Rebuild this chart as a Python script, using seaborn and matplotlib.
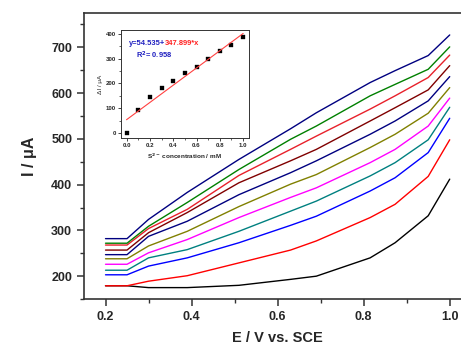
import numpy as np
import pandas as pd
import matplotlib
matplotlib.use("Agg")
import matplotlib.pyplot as plt
from matplotlib.ticker import MultipleLocator
import seaborn as sns

# potentials (V vs SCE) where the curves were read
potential = [0.20, 0.25, 0.30, 0.39, 0.51, 0.63, 0.69, 0.815, 0.873, 0.95, 1.0]

# currents (uA), bottom curve first
c0 = [179, 179, 175, 175, 180, 193, 200, 240, 273, 332, 412]
c1 = [179, 179, 189, 201, 229, 257, 277, 328, 357, 418, 498]
c2 = [203, 203, 222, 240, 273, 311, 331, 386, 415, 470, 545]
c3 = [213, 213, 240, 258, 298, 342, 364, 419, 448, 498, 569]
c4 = [226, 226, 251, 280, 328, 372, 393, 448, 477, 528, 589]
c5 = [238, 238, 266, 298, 352, 401, 422, 481, 510, 556, 612]
c6 = [247, 247, 287, 320, 378, 426, 452, 510, 539, 583, 636]
c7 = [257, 257, 295, 339, 404, 452, 477, 539, 568, 607, 660]
c8 = [268, 268, 304, 346, 420, 477, 506, 565, 594, 634, 683]
c9 = [272, 272, 309, 361, 433, 499, 528, 594, 619, 652, 701]
c10 = [282, 282, 324, 383, 455, 522, 557, 623, 649, 682, 727]
curves = [c0, c1, c2, c3, c4, c5, c6, c7, c8, c9, c10]

colors = ["#000000", "#ff0000", "#0000ff", "#008080", "#ff00ff", "#808000",
          "#000080", "#800000", "#e8202a", "#008000", "#000080"]

# inset: calibration
conc = [0.0, 0.1, 0.2, 0.3, 0.4, 0.5, 0.6, 0.7, 0.8, 0.9, 1.0]
delta_i = [0, 91, 145, 180, 209, 242, 268, 299, 329, 353, 385]

rows = []
for k, c in enumerate(curves):
    for e, i in zip(potential, c):
        rows.append({"E": e, "I": i, "curve": k})
df = pd.DataFrame(rows)

sns.set_theme(style="ticks")
plt.rcParams["font.family"] = ["Liberation Sans", "DejaVu Sans"]
plt.rcParams["font.weight"] = "bold"

fig = plt.figure(figsize=(4.61, 3.51), dpi=100)
ax = fig.add_axes([0.1822, 0.148, 0.84, 0.815])

sns.lineplot(data=df, x="E", y="I", hue="curve", palette=colors,
             estimator=None, sort=False, legend=False, linewidth=1.0, ax=ax)

ax.set_xlim(0.15, 1.05)
ax.set_ylim(150, 775)
ax.xaxis.set_major_locator(MultipleLocator(0.2))
ax.xaxis.set_minor_locator(MultipleLocator(0.1))
ax.yaxis.set_major_locator(MultipleLocator(100))
ax.yaxis.set_minor_locator(MultipleLocator(50))
ax.set_xticks([0.2, 0.4, 0.6, 0.8, 1.0])
ax.set_xticklabels(["0.2", "0.4", "0.6", "0.8", "1.0"])
ax.tick_params(which="major", length=5, width=1.1, color="#333333", labelsize=9)
ax.tick_params(which="minor", length=3, width=1.0, color="#333333")
for lab in ax.get_xticklabels() + ax.get_yticklabels():
    lab.set_fontweight("bold")
for s in ["left", "bottom", "top"]:
    ax.spines[s].set_linewidth(1.2)
    ax.spines[s].set_color("#333333")
ax.spines["right"].set_visible(False)
ax.set_xlabel("E / V vs. SCE", fontsize=10.5, fontweight="bold", labelpad=6)
ax.set_ylabel("I / \u03bcA", fontsize=11.5, fontweight="bold", labelpad=10)

# inset
ins = fig.add_axes([0.2618, 0.6068, 0.2783, 0.3077])
ins.set_facecolor("white")
sns.regplot(x=conc, y=delta_i, scatter=False, ci=None, color="#ff4040",
            line_kws={"linewidth": 0.8}, ax=ins)
sns.scatterplot(x=conc, y=delta_i, marker="s", color="black", s=9,
                edgecolor="black", ax=ins)
ins.set_xlim(-0.05, 1.05)
ins.set_ylim(-20, 415)
ins.xaxis.set_major_locator(MultipleLocator(0.2))
ins.xaxis.set_minor_locator(MultipleLocator(0.1))
ins.yaxis.set_major_locator(MultipleLocator(100))
ins.yaxis.set_minor_locator(MultipleLocator(50))
ins.tick_params(which="major", length=2, width=0.6, labelsize=4.4, pad=1.5)
ins.tick_params(which="minor", length=1.2, width=0.5)
for lab in ins.get_xticklabels() + ins.get_yticklabels():
    lab.set_fontweight("bold")
for s in ins.spines.values():
    s.set_linewidth(0.7)
    s.set_color("#333333")
ins.set_xlabel("S$^{2-}$ concentration / mM", fontsize=4.6, fontweight="bold", labelpad=3)
ins.set_ylabel("\u0394I / \u03bcA", fontsize=4.6, labelpad=2)
blue = ins.text(0.02, 355, "y=54.535+", color="#2020c0", fontsize=5.4, fontweight="bold")
ins.annotate("347.899*x", xy=(1, 0), xycoords=blue, va="bottom",
             color="#ff2020", fontsize=5.4, fontweight="bold")
ins.text(0.08, 300, "R$^2$= 0.958", color="#2020c0", fontsize=5.4, fontweight="bold")

fig.savefig("out.png", dpi=100)
